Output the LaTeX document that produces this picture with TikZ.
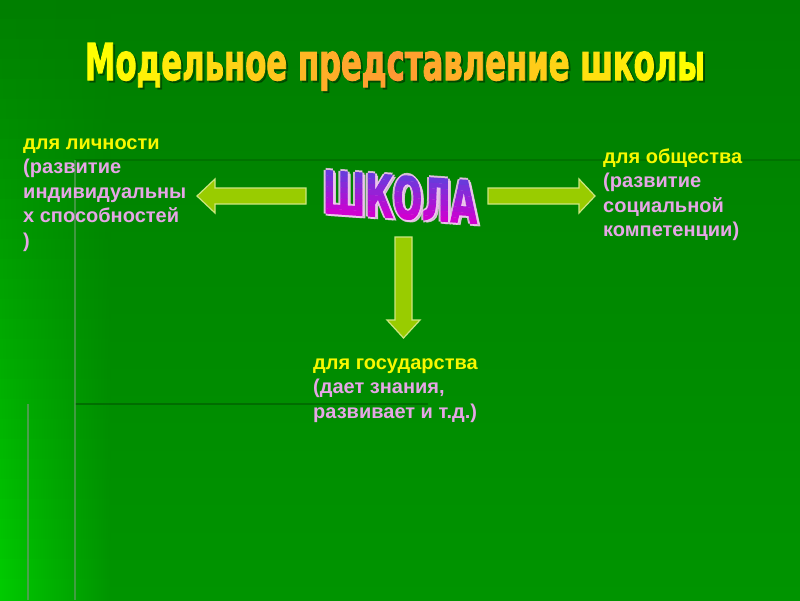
\documentclass[tikz,border=0pt]{standalone}
\usepackage{fontspec}
\usepackage{graphicx}
\setmainfont{Liberation Sans}
\newfontfamily\titlefont{DejaVu Sans}[BoldFeatures={FakeBold=2.5}]
\definecolor{bgtop}{HTML}{007E00}
\definecolor{bgbot}{HTML}{009400}
\definecolor{bgleft}{HTML}{00CC00}
\definecolor{darkln}{HTML}{006600}
\definecolor{greyln}{HTML}{5E9C5E}
\definecolor{ty}{HTML}{FFFF00}
\definecolor{to}{HTML}{FF9933}
\definecolor{ylw}{HTML}{F8F800}
\definecolor{pnk}{HTML}{E6A6E6}
\definecolor{vio}{HTML}{6A3ADB}
\definecolor{mag}{HTML}{D000D0}
\definecolor{glowc}{HTML}{F2C6F2}
\definecolor{arrfill}{HTML}{99CC00}
\definecolor{arrline}{HTML}{CCE680}
\newcommand{\tl}[2]{\textcolor{ty!#1!to}{#2}}
\newcommand{\titletext}{\titlefont\bfseries
\tl{100}{М}\tl{93}{о}\tl{86}{д}\tl{79}{е}\tl{71}{л}\tl{64}{ь}\tl{57}{н}\tl{50}{о}\tl{43}{е} \tl{29}{п}\tl{21}{р}\tl{14}{е}\tl{7}{д}\tl{0}{с}\tl{7}{т}\tl{14}{а}\tl{21}{в}\tl{29}{л}\tl{36}{е}\tl{43}{н}\tl{50}{и}\tl{57}{е} \tl{71}{ш}\tl{79}{к}\tl{86}{о}\tl{93}{л}\tl{100}{ы}}
\newcommand{\titleplain}{\titlefont\bfseries Модельное представление школы}
\newcommand{\shk}{\resizebox{154pt}{43pt}{\titlefont\bfseries ШКОЛА}}
\tikzset{
  txt/.style={font=\bfseries\fontsize{20}{24.5}\selectfont, align=left, inner sep=0pt, text=pnk},
  arrowbox/.style={fill=arrfill, draw=arrline, line width=1.2pt, line join=miter}
}
\begin{document}
\begin{tikzpicture}[x=1pt,y=1pt]
\useasboundingbox (0,0) rectangle (800,-600);
% background
\fill[top color=bgtop, bottom color=bgbot] (0,0) rectangle (800,-600);
\foreach \i in {0,...,29} {
  \pgfmathtruncatemacro\t{(\i+0.5)*100/30}
  \fill[left color=bgleft!\t!bgtop, right color=bgbot!\t!bgtop] (0,{-20*\i+0.4}) rectangle (110,{-20*(\i+1)-0.4});
}
\draw[darkln, line width=2.5pt, opacity=0.6] (75,-160) -- (800,-160);
\draw[darkln, line width=2.5pt, opacity=0.8] (75,-404) -- (428,-404);
\draw[greyln, line width=2pt, opacity=0.7] (75,-160) -- (75,-600);
\draw[greyln, line width=2pt, opacity=0.8] (28,-404) -- (28,-600);
% title
\node[anchor=base, inner sep=0pt, text=black, opacity=0.3] at (397,-82) {\resizebox{620pt}{37pt}{\titleplain}};
\node[anchor=base, inner sep=0pt] (title) at (395,-80) {\resizebox{620pt}{37pt}{\titletext}};
% SHKOLA
\begin{scope}[shift={(400,-197)}, yslant=-0.07]
  \foreach \dx/\dy in {2/0,-2/0,0/2,0/-2,3/-2}
    \node[inner sep=0pt, text=glowc, opacity=0.8, transform shape] at (\dx,\dy) {\shk};
  \foreach \i in {0,...,7} {
    \pgfmathtruncatemacro\p{\i*14}
    \begin{scope}
      \clip (-100,{22-\i*5.5}) rectangle (100,{22-(\i+1)*5.5-0.3});
      \node[inner sep=0pt, text=mag!\p!vio, transform shape] at (0,0) {\shk};
    \end{scope}
  }
  \coordinate (school) at (0,0);
\end{scope}
% arrows
\draw[arrowbox] (197,-196) -- (215,-179) -- (215,-188) -- (306,-188) -- (306,-204) -- (215,-204) -- (215,-213) -- cycle;
\draw[arrowbox] (595,-196) -- (579,-179) -- (579,-188) -- (488,-188) -- (488,-204) -- (579,-204) -- (579,-213) -- cycle;
\draw[arrowbox] (403.5,-338) -- (387,-320) -- (395,-320) -- (395,-237) -- (412,-237) -- (412,-320) -- (420,-320) -- cycle;
% texts (base anchor = baseline of last line)
\node[txt, anchor=base west] (left) at (23,-247) {\textcolor{ylw}{для личности}\\(развитие\\индивидуальны\\х способностей\\)};
\node[txt, anchor=base west] (right) at (603,-236.5) {\textcolor{ylw}{для общества}\\(развитие\\социальной\\компетенции)};
\node[txt, anchor=base west] (bottom) at (313,-418) {\textcolor{ylw}{для государства}\\(дает знания,\\развивает и т.д.)};
\end{tikzpicture}
\end{document}
